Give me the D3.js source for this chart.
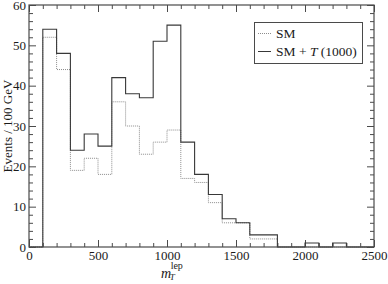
<!DOCTYPE html>
<html>
<head>
<meta charset="utf-8">
<script src="https://cdn.jsdelivr.net/npm/d3@7"></script>
<style>
  body { margin: 0; background: #fff; }
  text { font-family: "Liberation Serif", "Times New Roman", "DejaVu Serif", serif; fill: #1a1a1a; }
</style>
</head>
<body>
<div id="canvas"></div>
<script>
// bin lower edges (GeV), bins are 100 GeV wide
var binStart = [0, 100, 200, 300, 400, 500, 600, 700, 800, 900, 1000, 1100, 1200,
                1300, 1400, 1500, 1600, 1700, 1800, 1900, 2000, 2100, 2200, 2300, 2400];
var smValues = [0, 52, 44, 19, 22, 18, 36, 30, 23, 26, 29, 17, 16,
                11, 6, 6, 2, 2, 0, 0, 0, 0, 0, 0, 0];
var smTValues = [0, 54, 48, 24, 28, 25, 42, 38, 37, 51, 55, 26, 18,
                 13, 7, 6, 3, 3, 0, 0, 1, 0, 1, 0, 0];
var xMajor = [0, 500, 1000, 1500, 2000, 2500];
var yMajor = [0, 10, 20, 30, 40, 50, 60];
var binWidth = 100;

var width = 388, height = 284;
var margin = {left: 29, right: 14, top: 5, bottom: 37};
var w = width - margin.left - margin.right;
var h = height - margin.top - margin.bottom;

var svg = d3.select("#canvas").append("svg")
  .attr("width", width)
  .attr("height", height);
var g = svg.append("g")
  .attr("transform", "translate(" + margin.left + ", " + margin.top + ")");

var x = d3.scaleLinear().domain([0, 2500]).range([0, w]);
var y = d3.scaleLinear().domain([0, 60]).range([h, 0]);

var xMinor = d3.range(0, 2501, 100).filter((d) => xMajor.indexOf(d) < 0);
var yMinor = d3.range(0, 61, 2).filter((d) => yMajor.indexOf(d) < 0);

var axisColor = "#4a4a4a";
function styleAxis(sel) {
  sel.select(".domain").remove();
  sel.selectAll("line").attr("stroke", axisColor);
  sel.selectAll("text").attr("font-size", "13px").attr("fill", "#1a1a1a")
    .style("font-family", "'Liberation Serif', 'Times New Roman', serif");
}

// bottom
g.append("g").attr("transform", "translate(0," + h + ")")
  .call(d3.axisBottom(x).tickValues(xMajor).tickSize(-7).tickPadding(4).tickFormat(d3.format("d")))
  .call(styleAxis);
g.append("g").attr("transform", "translate(0," + h + ")")
  .call(d3.axisBottom(x).tickValues(xMinor).tickSize(-4).tickFormat(""))
  .call(styleAxis);
// top
g.append("g")
  .call(d3.axisTop(x).tickValues(xMajor).tickSize(-7).tickFormat(""))
  .call(styleAxis);
g.append("g")
  .call(d3.axisTop(x).tickValues(xMinor).tickSize(-4).tickFormat(""))
  .call(styleAxis);
// left
g.append("g")
  .call(d3.axisLeft(y).tickValues(yMajor).tickSize(-7).tickPadding(3).tickFormat(d3.format("d")))
  .call(styleAxis);
g.append("g")
  .call(d3.axisLeft(y).tickValues(yMinor).tickSize(-4).tickFormat(""))
  .call(styleAxis);
// right
g.append("g").attr("transform", "translate(" + w + ",0)")
  .call(d3.axisRight(y).tickValues(yMajor).tickSize(-7).tickFormat(""))
  .call(styleAxis);
g.append("g").attr("transform", "translate(" + w + ",0)")
  .call(d3.axisRight(y).tickValues(yMinor).tickSize(-4).tickFormat(""))
  .call(styleAxis);

// histogram step outlines
function stepPoints(values) {
  var pts = [];
  binStart.forEach((b, i) => {
    pts.push([b, values[i]]);
  });
  pts.push([binStart[binStart.length - 1] + binWidth, values[values.length - 1]]);
  return pts;
}
var line = d3.line()
  .x((d) => x(d[0]))
  .y((d) => y(d[1]))
  .curve(d3.curveStepAfter);

g.append("path")
  .attr("d", line(stepPoints(smValues)))
  .attr("fill", "none")
  .attr("stroke", "#8c8c8c")
  .attr("stroke-width", 1)
  .attr("stroke-dasharray", "1,1");

g.append("path")
  .attr("d", line(stepPoints(smTValues)))
  .attr("fill", "none")
  .attr("stroke", "#383838")
  .attr("stroke-width", 1.1);

// frame
g.append("rect")
  .attr("x", 0).attr("y", 0)
  .attr("width", w).attr("height", h)
  .attr("fill", "none")
  .attr("stroke", axisColor)
  .attr("stroke-width", 1.2);

// legend
var legend = svg.append("g");
legend.append("rect")
  .attr("x", 254.5).attr("y", 22.5)
  .attr("width", 108).attr("height", 41)
  .attr("fill", "#fff")
  .attr("stroke", axisColor);
legend.append("line")
  .attr("x1", 258).attr("x2", 271).attr("y1", 33.5).attr("y2", 33.5)
  .attr("stroke", "#8c8c8c").attr("stroke-dasharray", "1,1");
legend.append("text")
  .attr("x", 276).attr("y", 37.5)
  .attr("font-size", "13.5px")
  .text("SM");
legend.append("line")
  .attr("x1", 258).attr("x2", 271).attr("y1", 51.5).attr("y2", 51.5)
  .attr("stroke", "#383838");
var lt = legend.append("text")
  .attr("x", 276).attr("y", 55.5)
  .attr("font-size", "13.5px");
lt.append("tspan").text("SM + ");
lt.append("tspan").attr("font-style", "italic").text("T");
lt.append("tspan").text(" (1000)");

// Y Label
svg.append("text")
  .attr("transform", "translate(11.5," + (margin.top + h / 2) + ") rotate(-90)")
  .attr("text-anchor", "middle")
  .attr("font-size", "13px")
  .text("Events / 100 GeV");

// X Label
var xl = svg.append("text")
  .attr("x", 161).attr("y", 277.5);
xl.append("tspan").attr("font-size", "14px").attr("font-style", "italic").text("m");
xl.append("tspan").attr("font-size", "9px").attr("font-style", "italic")
  .attr("dx", -1.5).attr("dy", 2.5).text("T");
xl.append("tspan").attr("font-size", "10px")
  .attr("dx", -4).attr("dy", -11).text("lep");
</script>
</body>
</html>
